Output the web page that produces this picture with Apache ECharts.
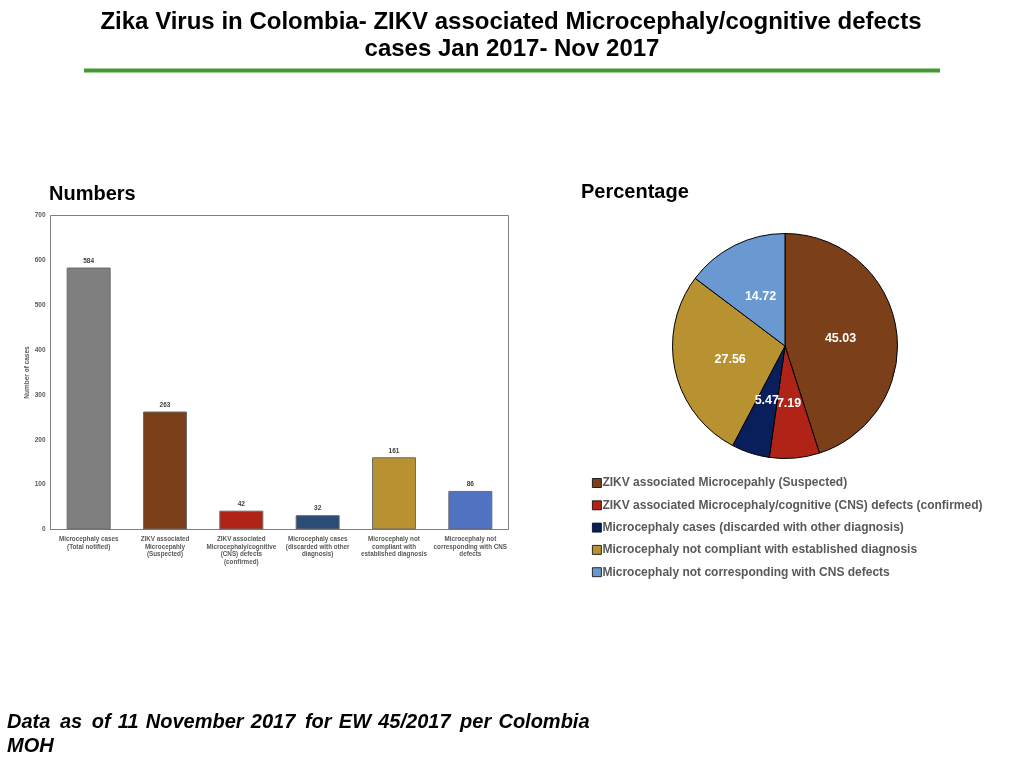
<!DOCTYPE html>
<html><head><meta charset="utf-8">
<style>html,body{margin:0;padding:0;background:#fff}#c{width:1024px;height:768px}</style>
<script src="https://cdn.jsdelivr.net/npm/echarts@6/dist/echarts.min.js"></script>
</head><body><div id="c"></div>
<script>
const barCategories=["Microcephaly cases\n(Total notified)","ZIKV associated\nMicrocepahly\n(Suspected)","ZIKV associated\nMicrocephaly/cognitive\n(CNS) defects\n(confirmed)","Microcephaly cases\n(discarded with other\ndiagnosis)","Microcephaly not\ncompliant with\nestablished diagnosis","Microcephaly not\ncorresponding with CNS\ndefects"];
const barValues=[584,263,42,32,161,86];
const barColors=["#7f7f7f","#7b3f19","#b02418","#2b4c77","#b89130","#5072c0"];
const pieNames=["ZIKV associated Microcepahly (Suspected)","ZIKV associated Microcephaly/cognitive (CNS) defects (confirmed)","Microcephaly cases (discarded with other diagnosis)","Microcephaly not compliant with established diagnosis","Microcephaly not corresponding with CNS defects"];
const pieValues=[45.03,7.19,5.47,27.56,14.72];
const pieColors=["#7b3f19","#b02418","#081f5c","#b89130","#6a98d0"];
const F="'Liberation Sans',Arial,sans-serif";
const chart=echarts.init(document.getElementById('c'),null,{renderer:'canvas'});
const T=(text,x,y,size,extra)=>({text,left:x,top:y,textAlign:extra&&extra.align||'left',padding:0,textStyle:Object.assign({fontFamily:F,fontWeight:'bold',fontSize:size,color:'#000'},extra&&extra.style||{})});
const labelNudge=[[-3,2],[-1,-1],[0,-2],[3,1],[2,4]];
chart.setOption({
 animation:false,
 backgroundColor:'#fff',
 title:[
  T("Zika Virus in Colombia- ZIKV associated Microcephaly/cognitive defects",511,10,24,{align:'center'}),
  T("cases Jan 2017- Nov 2017",512,37,24,{align:'center'}),
  T("Numbers",49,184,20),
  T("Percentage",581,182,20),
  T("Data\u2009 as\u2009 of\u200a 11\u200a November\u200a 2017\u2009 for\u200a EW\u200a 45/2017\u2009 per\u200a Colombia",7,712,20,{style:{fontStyle:'italic'}}),
  T("MOH",7,736,20,{style:{fontStyle:'italic'}})
 ],
 graphic:[{type:'rect',shape:{x:84,y:68.5,width:856,height:4},style:{fill:'#459a2f'}}],
 grid:{left:50.5,top:215.5,width:458,height:314,show:true,borderColor:'#7f7f7f',borderWidth:1,backgroundColor:'#fff'},
 xAxis:{type:'category',data:barCategories,
  axisTick:{show:false},axisLine:{lineStyle:{color:'#7f7f7f'}},
  axisLabel:{interval:0,fontFamily:F,fontWeight:'bold',fontSize:6.3,lineHeight:7.7,color:'#595959',margin:6}},
 yAxis:{type:'value',min:0,max:700,interval:100,
  name:'Number of cases',nameLocation:'middle',nameGap:19,nameRotate:90,
  nameTextStyle:{fontFamily:F,fontWeight:'bold',fontSize:6.5,color:'#595959'},
  axisTick:{show:false},axisLine:{show:false},splitLine:{show:false},
  axisLabel:{fontFamily:F,fontWeight:'bold',fontSize:6.5,color:'#595959',margin:5,padding:[2,0,0,0]}},
 legend:{orient:'vertical',left:592,top:476.5,padding:0,itemWidth:9,itemHeight:9,itemGap:9.3,
  icon:'rect',selectedMode:false,data:pieNames,
  itemStyle:{borderColor:'#000',borderWidth:0.8},
  textStyle:{fontFamily:F,fontWeight:'bold',fontSize:12,color:'#595959',padding:[0,0,0,-4],lineHeight:13}},
 series:[
  {type:'bar',barWidth:44,data:barValues.map((v,i)=>({value:v,itemStyle:{color:barColors[i]}})),
   itemStyle:{borderColor:'#6b6b6b',borderWidth:1},
   label:{show:true,position:'top',distance:3,fontFamily:F,fontWeight:'bold',fontSize:6.5,color:'#404040'}},
  {type:'pie',center:[785,346],radius:[0,112.5],startAngle:90,clockwise:true,avoidLabelOverlap:false,
   labelLayout:{hideOverlap:false},
   data:pieValues.map((v,i)=>({name:pieNames[i],value:v,itemStyle:{color:pieColors[i]},label:{offset:labelNudge[i]}})),
   itemStyle:{borderColor:'#000',borderWidth:1},
   label:{show:true,position:'inside',formatter:p=>p.value.toFixed(2),fontFamily:F,fontWeight:'bold',fontSize:12.5,color:'#fff'},
   labelLine:{show:false},emphasis:{disabled:true}}
 ]
});
</script></body></html>
